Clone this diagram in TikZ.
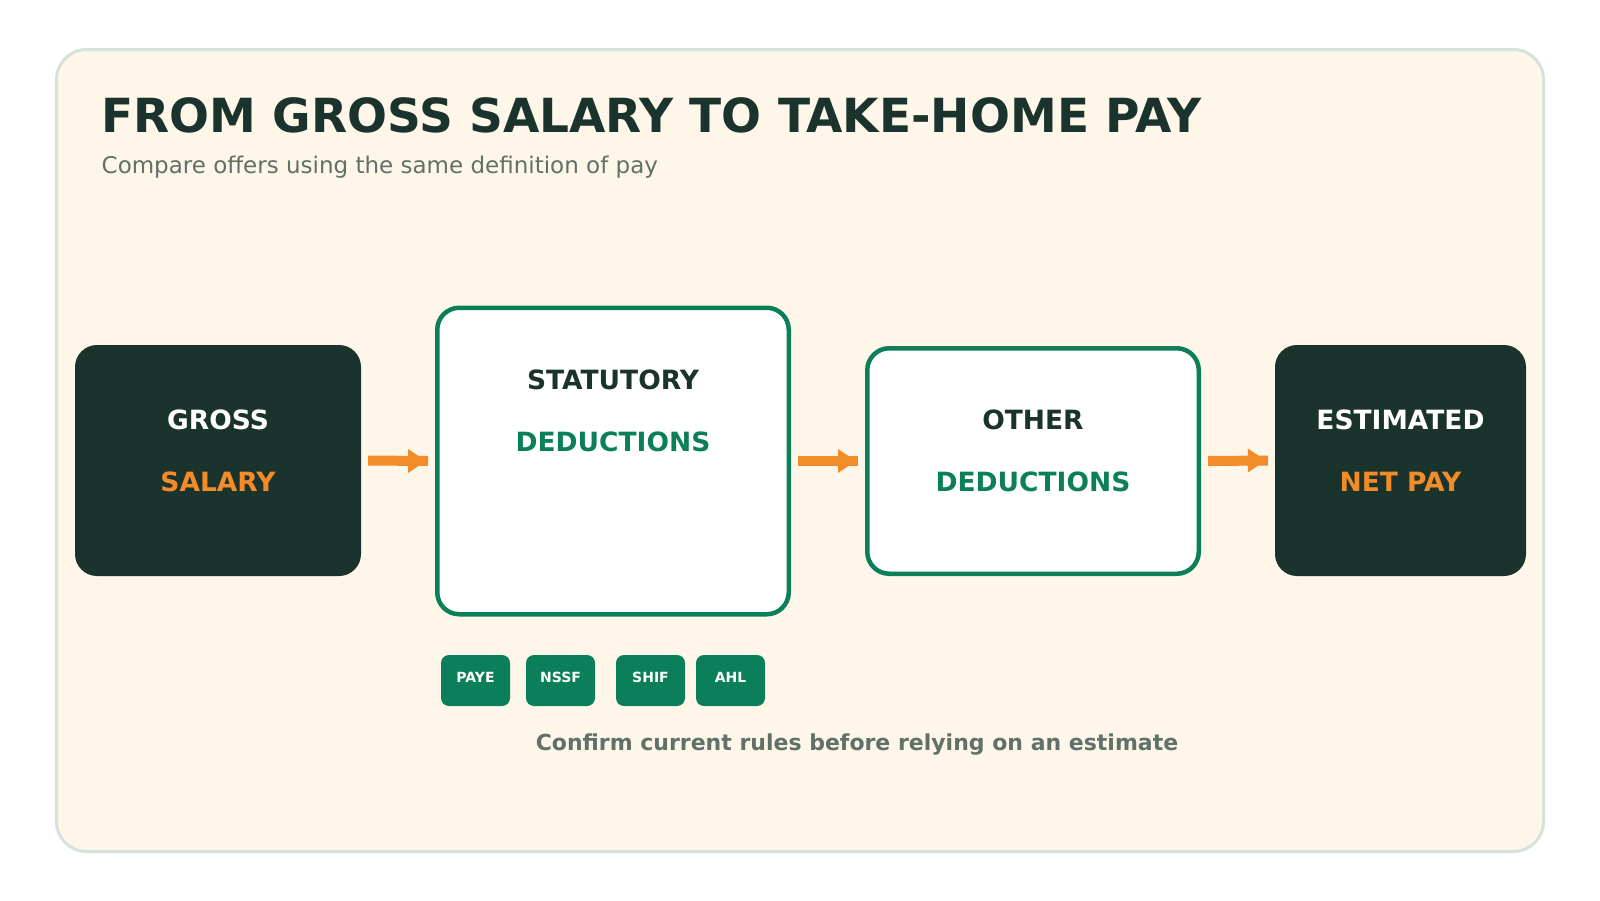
\documentclass[tikz,border=0pt]{standalone}
\usepackage{fontspec}
\setmainfont{DejaVu Sans}
\usetikzlibrary{positioning}
\definecolor{dark}{HTML}{1B332D}
\definecolor{accent}{HTML}{F28C28}
\definecolor{grn}{HTML}{0B7F5A}
\definecolor{muted}{HTML}{5F7169}
\definecolor{paper}{HTML}{FEF6E8}
\definecolor{rim}{HTML}{D6E3DC}
\tikzset{
  darkbox/.style={rectangle, rounded corners=22pt, fill=dark, draw=none, inner sep=0pt},
  greenbox/.style={rectangle, rounded corners=22pt, fill=white, draw=grn, line width=4.5pt, inner sep=0pt},
  boxtxt/.style={anchor=base, inner sep=0pt, font=\fontsize{26.5}{30}\selectfont\bfseries},
  badge/.style={rectangle, rounded corners=8pt, fill=grn, text=white, minimum width=69pt, minimum height=51pt, inner sep=0pt, text height=10.2pt, text depth=7.2pt, font=\fontsize{14}{16}\selectfont\bfseries},
  flowline/.style={draw=accent, line width=10pt},
  flowhead/.style={fill=accent},
}
\begin{document}
\begin{tikzpicture}[x=1pt,y=-1pt]
\useasboundingbox (0,0) rectangle (1600,900);
\fill[white] (0,0) rectangle (1600,900);
% panel
\draw[rim, fill=paper, line width=3pt, rounded corners=30pt] (56.5,49.5) rectangle (1543.5,851.5);
% title
\node[anchor=base west, inner sep=0pt, text=dark, font=\fontsize{47}{52}\selectfont\bfseries] (title) at (101,132) {FROM GROSS SALARY TO TAKE-HOME PAY};
\node[anchor=base west, inner sep=0pt, text=muted, font=\fontsize{23}{26}\selectfont] (subtitle) at (101.5,173) {Compare offers using the same definition of pay};
% boxes
\node[darkbox, minimum width=286pt, minimum height=231pt] (gross) at (218,460.5) {};
\node[greenbox, minimum width=351.5pt, minimum height=306.5pt] (stat) at (613,461) {};
\node[greenbox, minimum width=331.5pt, minimum height=225.5pt] (other) at (1033,461) {};
\node[darkbox, minimum width=251pt, minimum height=231pt] (net) at (1400.5,460.5) {};
% box texts
\node[boxtxt, text=white] (grossA) at ([yshift=-85pt]gross.north) {GROSS};
\node[boxtxt, text=accent] (grossB) at ([yshift=-147pt]gross.north) {SALARY};
\node[boxtxt, text=dark] (statA) at ([yshift=-84pt]stat.north) {STATUTORY};
\node[boxtxt, text=grn] (statB) at ([yshift=-146pt]stat.north) {DEDUCTIONS};
\node[boxtxt, text=dark] (otherA) at ([yshift=-83pt]other.north) {OTHER};
\node[boxtxt, text=grn] (otherB) at ([yshift=-145pt]other.north) {DEDUCTIONS};
\node[boxtxt, text=white] (netA) at ([yshift=-85pt]net.north) {ESTIMATED};
\node[boxtxt, text=accent] (netB) at ([yshift=-147pt]net.north) {NET PAY};
% arrows
\coordinate (a1s) at ([xshift=7pt]gross.east);
\coordinate (a1e) at ([xshift=-7pt]stat.west);
\coordinate (a2s) at ([xshift=7pt]stat.east);
\coordinate (a2e) at ([xshift=-7pt]other.west);
\coordinate (a3s) at ([xshift=7pt]other.east);
\coordinate (a3e) at ([xshift=-7pt]net.west);
\foreach \s/\e in {a1s/a1e, a2s/a2e, a3s/a3e}{
  \draw[flowline] (\s) -- (\e);
  \fill[flowhead] ([xshift=-20pt,yshift=12pt]\e) -- ([xshift=-2pt]\e) -- ([xshift=-20pt,yshift=-12pt]\e) -- cycle;
}
% badges
\node[badge] (paye) at (475.5,680.5) {PAYE};
\node[badge] (nssf) at (560.5,680.5) {NSSF};
\node[badge] (shif) at (650.5,680.5) {SHIF};
\node[badge] (ahl) at (730.5,680.5) {AHL};
% footer
\node[anchor=base, inner sep=0pt, text=muted, font=\fontsize{22}{25}\selectfont\bfseries] (footer) at (857,750) {Confirm current rules before relying on an estimate};
\end{tikzpicture}
\end{document}
